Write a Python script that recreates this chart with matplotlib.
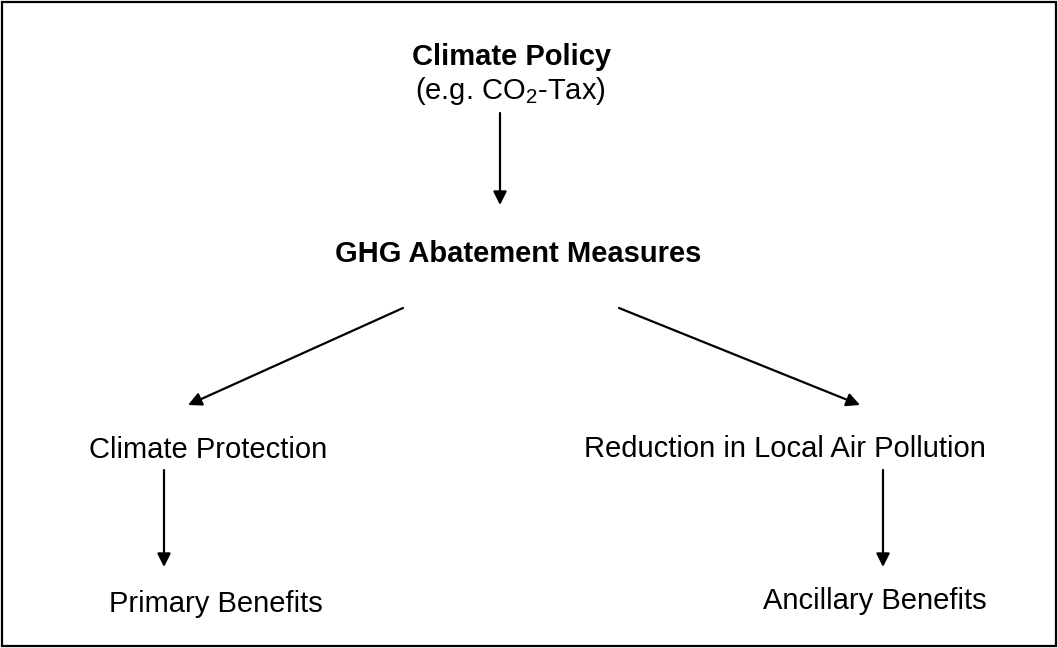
import matplotlib
matplotlib.use("Agg")
import matplotlib.pyplot as plt
from matplotlib.patches import FancyArrowPatch, Rectangle

plt.rcParams['font.family'] = ['Liberation Sans', 'DejaVu Sans']

# Node texts
labels = ["Climate Policy", "(e.g. CO$_2$-Tax)", "GHG Abatement Measures",
          "Climate Protection", "Reduction in Local Air Pollution",
          "Primary Benefits", "Ancillary Benefits"]
bold = [True, False, True, False, False, False, False]

# layout (pixel coords, text baselines)
label_x = [512, 510, 518, 208, 785, 216, 875]
label_y = [65, 99, 262, 458, 457, 612, 609]

arrow_start = [(500, 113), (403, 308), (619, 308), (164, 470), (883, 470)]
arrow_end = [(500, 205), (188, 405), (860, 405), (164, 567), (883, 567)]

W, H = 1058, 648
fig = plt.figure(figsize=(W / 100, H / 100), dpi=100)
ax = fig.add_axes([0, 0, 1, 1])
ax.set_xlim(0, W)
ax.set_ylim(H, 0)
ax.axis('off')

ax.add_patch(Rectangle((2, 2), W - 4, H - 4, fill=False, edgecolor='black', lw=1.6))

plt.rcParams['mathtext.default'] = 'regular'
for t, b, x, y in zip(labels, bold, label_x, label_y):
    ax.text(x, y, t, ha='center', va='baseline', fontsize=21,
            fontweight='bold' if b else 'normal', color='black')

for s, e in zip(arrow_start, arrow_end):
    ax.add_patch(FancyArrowPatch(s, e, arrowstyle='-|>', mutation_scale=20,
                                 lw=1.6, color='black', shrinkA=0, shrinkB=0))

fig.savefig("out.png", dpi=100)
